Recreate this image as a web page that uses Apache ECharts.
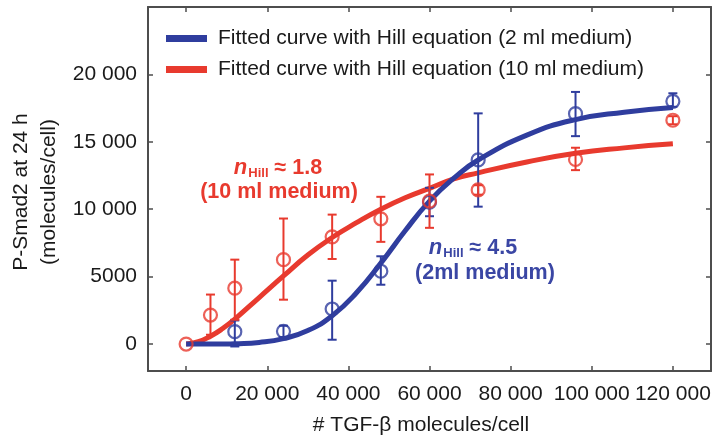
<!DOCTYPE html>
<html>
<head>
<meta charset="utf-8">
<script src="https://cdn.jsdelivr.net/npm/echarts@6/dist/echarts.min.js"></script>
<style>
  html, body { margin: 0; padding: 0; background: #fff; }
  #chart { width: 717px; height: 438px; }
</style>
</head>
<body>
<div id="chart"></div>
<script>
// fitted curves
const curveX = [0, 3000, 6000, 9000, 12000, 18000, 24000, 30000, 36000, 42000, 48000, 54000, 60000, 66000, 72000, 84000, 96000, 108000, 120000];
const blueCurve = [0, 0, 0, 5, 25, 120, 400, 1000, 2100, 3800, 6000, 8400, 10600, 12300, 13650, 15500, 16650, 17200, 17550];
const redCurve = [0, 170, 580, 1150, 1850, 3450, 5050, 6600, 7900, 9000, 10000, 10850, 11550, 12250, 12700, 13500, 14150, 14550, 14850];

// measured points (2 ml medium)
const blueX = [12000, 24000, 36000, 48000, 60000, 72000, 96000, 120000];
const blueY = [920, 940, 2600, 5400, 10520, 13660, 17090, 18000];
const blueLow = [-180, 520, 320, 4400, 9480, 10190, 15420, 17600];
const blueHigh = [1750, 1360, 4700, 6510, 11590, 17110, 18700, 18600];

// measured points (10 ml medium)
const redX = [0, 6000, 12000, 24000, 36000, 48000, 60000, 72000, 96000, 120000];
const redY = [0, 2150, 4140, 6260, 7950, 9290, 10600, 11430, 13690, 16600];
const redLow = [0, 690, 1800, 3290, 6310, 7580, 8620, 11080, 12900, 16300];
const redHigh = [0, 3670, 6260, 9310, 9600, 10920, 12580, 11780, 14560, 16900];

const xTicks = [0, 20000, 40000, 60000, 80000, 100000, 120000];
const xTickLabels = ["0", "20 000", "40 000", "60 000", "80 000", "100 000", "120 000"];
const yTicks = [0, 5000, 10000, 15000, 20000];
const yTickLabels = ["0", "5000", "10 000", "15 000", "20 000"];

const legendBlue = "Fitted curve with Hill equation (2 ml medium)";
const legendRed = "Fitted curve with Hill equation (10 ml medium)";

const BLUE = "#2f3d9e";
const RED = "#e83a2e";
const AXIS = "#4d4d4d";
const FONT = "Liberation Sans, Arial, sans-serif";

const X_MIN = -9400, X_MAX = 129400;
const Y_MIN = -2000, Y_MAX = 25000;

function zip(xs, ...cols) {
  return xs.map((x, i) => [x, ...cols.map((c) => c[i])]);
}

function errorBars(color) {
  return function (params, api) {
    const x = api.value(0);
    const lo = api.value(1);
    const hi = api.value(2);
    if (lo === hi) return null;
    const a = api.coord([x, lo]);
    const b = api.coord([x, hi]);
    const w = 4.5;
    const style = { stroke: color, lineWidth: 2 };
    return {
      type: "group",
      children: [
        { type: "line", shape: { x1: a[0], y1: a[1], x2: b[0], y2: b[1] }, style },
        { type: "line", shape: { x1: b[0] - w, y1: b[1], x2: b[0] + w, y2: b[1] }, style },
        { type: "line", shape: { x1: a[0] - w, y1: a[1], x2: a[0] + w, y2: a[1] }, style },
      ],
    };
  };
}

function tickLabel(ticks, labels) {
  return (v) => {
    const i = ticks.indexOf(v);
    return i >= 0 ? labels[i] : "";
  };
}

function frameAxis(position, isX, showLabels) {
  const ticks = isX ? xTicks : yTicks;
  return {
    type: "value",
    position,
    min: isX ? X_MIN : Y_MIN,
    max: isX ? X_MAX : Y_MAX,
    axisLine: { show: true, onZero: false, lineStyle: { color: AXIS, width: 2 } },
    axisTick: { show: true, inside: true, length: 5, customValues: ticks, lineStyle: { color: AXIS, width: 1.5 } },
    axisLabel: {
      show: showLabels,
      customValues: ticks,
      formatter: tickLabel(ticks, isX ? xTickLabels : yTickLabels),
      fontFamily: FONT,
      fontSize: 21,
      color: "#1a1a1a",
      margin: isX ? 13 : 11,
    },
    splitLine: { show: false },
  };
}

const textBase = { fontFamily: FONT, fontWeight: "bold", fontSize: 21.5 };

function hillLabel(value, color) {
  return {
    text: "{n|n}{s|Hill}{t| ≈ " + value + "}",
    align: "center",
    verticalAlign: "middle",
    rich: {
      n: { ...textBase, fill: color, fontStyle: "italic", fontSize: 22 },
      s: { ...textBase, fill: color, fontSize: 13, padding: [10, 0, 0, 1] },
      t: { ...textBase, fill: color },
    },
  };
}

const chart = echarts.init(document.getElementById("chart"), null, { renderer: "canvas" });

chart.setOption({
  animation: false,
  backgroundColor: "#fff",
  grid: { left: 148, right: 6, top: 7, bottom: 67, containLabel: false },
  xAxis: [frameAxis("bottom", true, true), frameAxis("top", true, false)],
  yAxis: [frameAxis("left", false, true), frameAxis("right", false, false)],
  legend: {
    orient: "vertical",
    left: 161,
    top: 23,
    icon: "rect",
    itemWidth: 41,
    itemHeight: 7,
    itemGap: 10,
    data: [legendBlue, legendRed],
    textStyle: { fontFamily: FONT, fontSize: 21, color: "#1a1a1a", padding: [0, 0, 0, 6] },
  },
  graphic: [
    {
      type: "text",
      x: 35,
      y: 192,
      rotation: Math.PI / 2,
      style: {
        text: "P-Smad2 at 24 h\n(molecules/cell)",
        align: "center",
        verticalAlign: "middle",
        fontFamily: FONT,
        fontSize: 21,
        lineHeight: 28,
        fill: "#1a1a1a",
      },
    },
    {
      type: "text",
      x: 421,
      y: 425,
      style: {
        text: "# TGF-β molecules/cell",
        align: "center",
        verticalAlign: "middle",
        fontFamily: FONT,
        fontSize: 21,
        fill: "#1a1a1a",
      },
    },
    { type: "text", x: 278, y: 168, z: 50, style: hillLabel("1.8", RED) },
    { type: "text", x: 279, y: 192, z: 50, style: { ...textBase, text: "(10 ml medium)", fill: RED, align: "center", verticalAlign: "middle" } },
    { type: "text", x: 473, y: 248, z: 50, style: hillLabel("4.5", "#3a46a4") },
    { type: "text", x: 485, y: 273, z: 50, style: { ...textBase, text: "(2ml medium)", fill: "#3a46a4", align: "center", verticalAlign: "middle" } },
  ],
  series: [
    {
      name: legendRed,
      type: "line",
      data: zip(curveX, redCurve),
      smooth: true,
      showSymbol: false,
      color: RED,
      lineStyle: { width: 5, color: RED },
      z: 2,
    },
    {
      name: legendBlue,
      type: "line",
      data: zip(curveX, blueCurve),
      smooth: true,
      showSymbol: false,
      color: BLUE,
      lineStyle: { width: 5, color: BLUE },
      z: 3,
    },
    {
      type: "custom",
      renderItem: errorBars(BLUE),
      data: zip(blueX, blueLow, blueHigh),
      encode: { x: 0, y: [1, 2] },
      z: 4,
    },
    {
      type: "custom",
      renderItem: errorBars(RED),
      data: zip(redX, redLow, redHigh),
      encode: { x: 0, y: [1, 2] },
      z: 4,
    },
    {
      type: "scatter",
      data: zip(blueX, blueY),
      symbol: "circle",
      symbolSize: 13,
      itemStyle: { color: "rgba(0,0,0,0)", borderColor: BLUE, borderWidth: 2.2 },
      z: 5,
    },
    {
      type: "scatter",
      data: zip(redX, redY),
      symbol: "circle",
      symbolSize: 13,
      itemStyle: { color: "rgba(0,0,0,0)", borderColor: RED, borderWidth: 2.2 },
      z: 5,
    },
  ],
});
</script>
</body>
</html>
